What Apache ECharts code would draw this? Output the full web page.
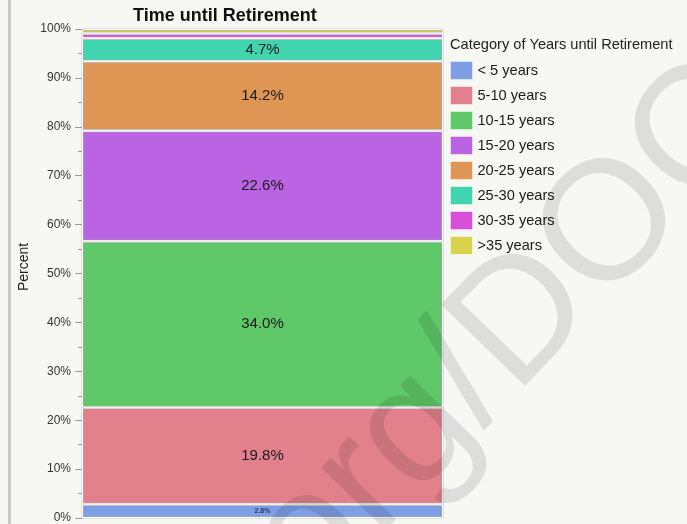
<!DOCTYPE html>
<html>
<head>
<meta charset="utf-8">
<script src="https://cdn.jsdelivr.net/npm/echarts@6/dist/echarts.min.js"></script>
<style>
html,body{margin:0;padding:0;background:#f7f7f4;}
#c{width:687px;height:524px;}
</style>
</head>
<body>
<div id="c"></div>
<script>
var categories = ['< 5 years','5-10 years','10-15 years','15-20 years','20-25 years','25-30 years','30-35 years','>35 years'];
var percents = [2.8, 19.8, 34.0, 22.6, 14.2, 4.7, 1.0, 0.9];
var barGroup = ['All'];
var axisTitle = 'Percent';
var palette = ['#7e9ee6','#e2808b','#5fc868','#ba64e3','#df9655','#40d5ae','#d94fd9','#d8d24f'];

var FONT = '"Liberation Sans", Arial, Helvetica, sans-serif';
var series = [];
categories.forEach(function(name, i){
  series.push({
    name: name, type: 'bar', stack: 'outline', barWidth: '100%', barGap: '-100%',
    data: [percents[i]], z: 2, silent: true,
    itemStyle: {color: palette[i], borderColor: '#a8a8a8', borderWidth: 1.6}
  });
});
categories.forEach(function(name, i){
  var small = percents[i] < 2;
  var tiny = percents[i] < 3.5 && !small;
  series.push({
    name: name, type: 'bar', stack: 'inner', barWidth: '100%', barGap: '-100%',
    data: [percents[i]], z: 3,
    itemStyle: {color: 'rgba(0,0,0,0)', borderColor: '#ffffff', borderWidth: 1.0},
    label: {
      show: !small, position: 'inside',
      formatter: function(p){ return p.value.toFixed(1) + '%'; },
      fontFamily: FONT,
      fontSize: tiny ? 7 : 15,
      fontWeight: tiny ? 'bold' : 'normal',
      color: tiny ? '#2b3a6b' : '#1a1a1a'
    }
  });
});

var chart = echarts.init(document.getElementById('c'));
var th = 46 * Math.PI / 180;
chart.setOption({
  backgroundColor: '#f7f7f4',
  animation: false,
  color: palette,
  title: [
    {text: 'Time until Retirement', left: 133, top: 7, padding: 0,
     textStyle: {fontFamily: FONT, fontSize: 18, fontWeight: 'bold', color: '#111'}},
    {text: 'Category of Years until Retirement', left: 450, top: 37, padding: 0,
     textStyle: {fontFamily: FONT, fontSize: 14.6, fontWeight: 'normal', color: '#222'}}
  ],
  legend: {
    orient: 'vertical', left: 450, top: 61, padding: 0,
    itemWidth: 22, itemHeight: 18, itemGap: 6, icon: 'rect',
    data: categories.map(function(n, i){ return {name: n, itemStyle: {color: palette[i]}}; }),
    itemStyle: {borderWidth: 1, borderColor: 'rgba(255,255,255,0.45)'},
    textStyle: {fontFamily: FONT, fontSize: 14.6, lineHeight: 18, color: '#1a1a1a'},
    selectedMode: false
  },
  grid: {left: 82, right: 244, top: 29, bottom: 6, show: true,
         backgroundColor: '#ffffff', borderColor: '#c8c8c8', borderWidth: 1},
  xAxis: {type: 'category', data: barGroup, axisLine: {show: false},
          axisTick: {show: false}, axisLabel: {show: false}},
  yAxis: {
    type: 'value', min: 0, max: 100, interval: 10,
    axisLine: {show: false},
    axisTick: {show: true, length: 7, lineStyle: {color: '#999'}},
    minorTick: {show: true, splitNumber: 2, length: 4, lineStyle: {color: '#999'}},
    splitLine: {show: false},
    axisLabel: {formatter: '{value}%', margin: 11, fontFamily: FONT, fontSize: 12, color: '#333'}
  },
  graphic: [
    {type: 'rect', left: 8, top: 0, shape: {width: 3, height: 524}, style: {fill: '#c9c9c9'}, silent: true, z: 0},
    {type: 'text', x: 24, y: 267, rotation: Math.PI / 2, silent: true, z: 10,
     style: {text: axisTitle, font: '14px "Liberation Sans", Arial, sans-serif',
             fill: '#222', align: 'center', verticalAlign: 'middle'}},
    {type: 'text', x: 278, y: 574, rotation: th, silent: true, z: 100,
     style: {text: 'org/DOC', font: '170px "Liberation Sans", Arial, sans-serif',
             fill: 'rgba(0,0,0,0.1)', align: 'left', verticalAlign: 'middle'}}
  ],
  series: series
});
</script>
</body>
</html>
